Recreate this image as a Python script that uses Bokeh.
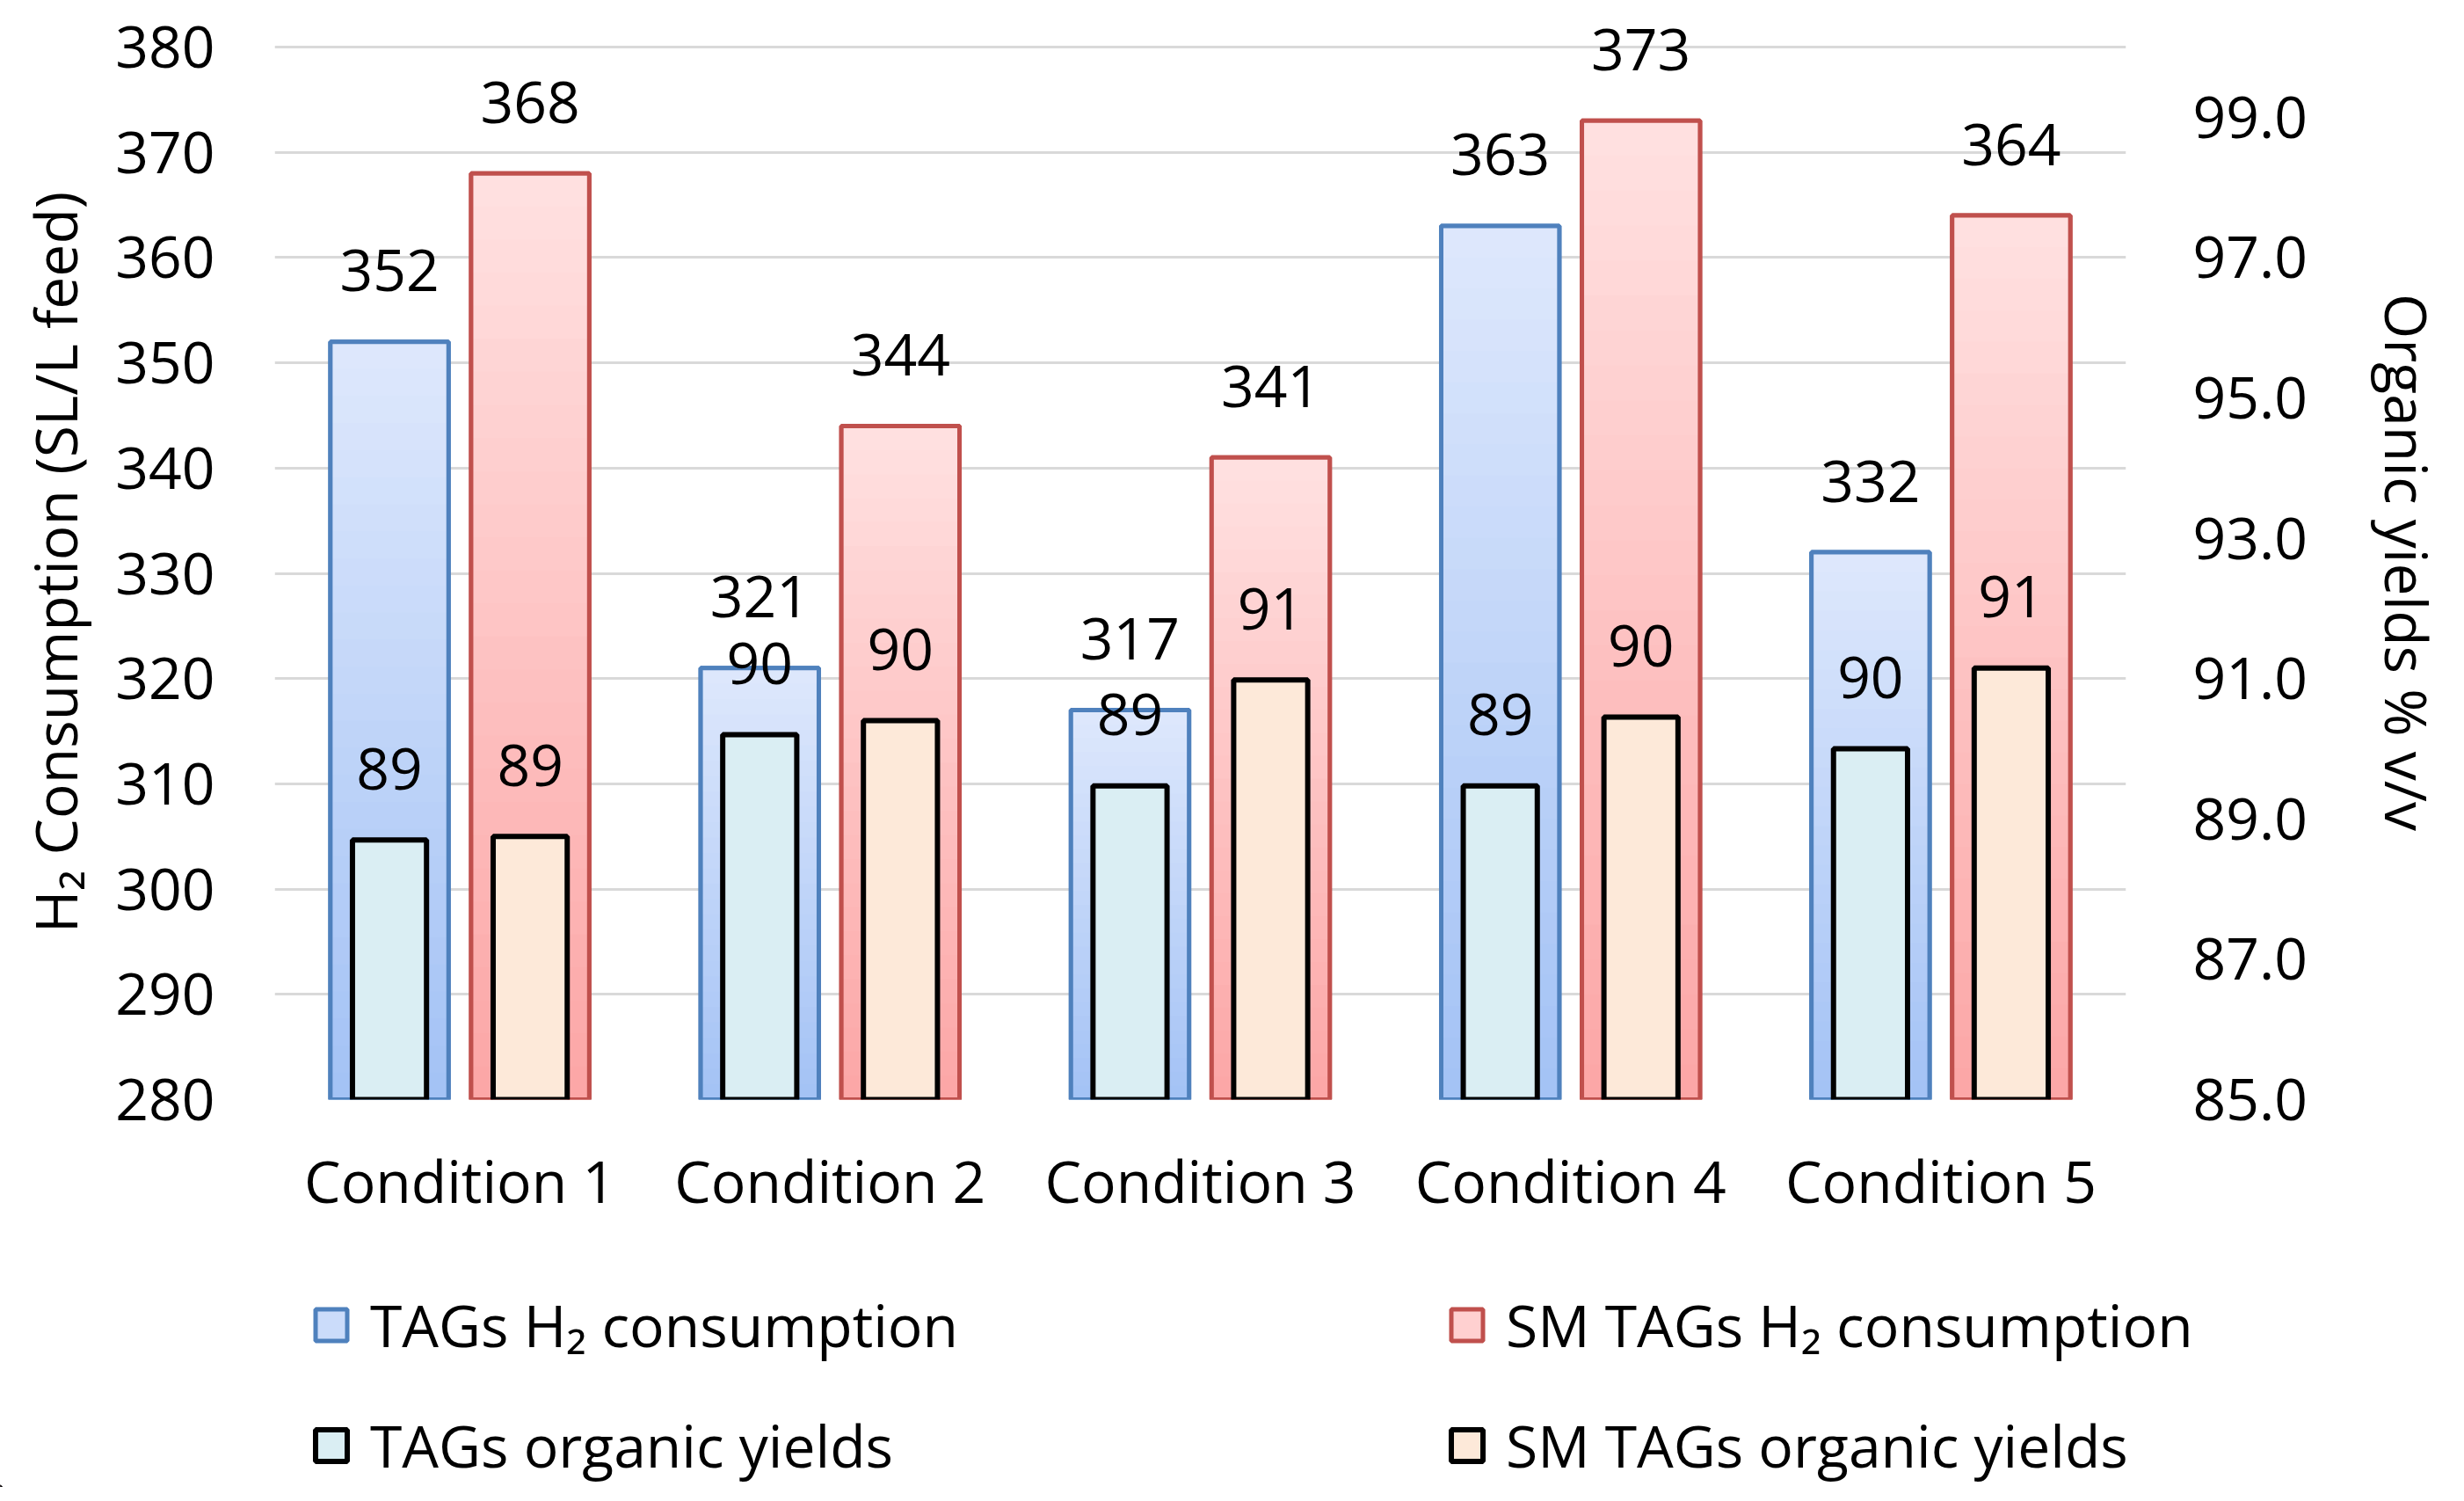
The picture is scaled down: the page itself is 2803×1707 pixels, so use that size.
from bokeh.plotting import figure
from bokeh.models import (FactorRange, Range1d, LinearAxis, FixedTicker, NumeralTickFormatter,
                          ColumnDataSource, Legend, LegendItem)
from bokeh.transform import dodge
from bokeh.core.properties import value
from bokeh.embed import file_html
from bokeh.resources import INLINE

# ---------------- data ----------------
categories = ["Condition 1", "Condition 2", "Condition 3", "Condition 4", "Condition 5"]
tags_h2 = [352, 321, 317, 363, 332]
sm_tags_h2 = [368, 344, 341, 373, 364]
tags_yield = [88.70, 90.20, 89.47, 89.47, 90.00]
sm_tags_yield = [88.75, 90.40, 90.98, 90.45, 91.15]
h2_ticks = [280, 290, 300, 310, 320, 330, 340, 350, 360, 370, 380]
yield_ticks = [85, 87, 89, 91, 93, 95, 97, 99]

# ---------------- styling ----------------
FONT = "Open Sans"
FS = "66px"
W = 2787
H_MAIN, H_LEG = 1400, 291
FRAME_L, FRAME_R, FRAME_B = 312, 2428, 1250
GRID_TOP = 53          # pixel row of the 380 gridline
FRAME_T = 28           # frame a bit taller so the top data label is not clipped
H2_MIN, H2_MAX = 280, 380
Y_MIN, Y_MAX = 85, 100
px_per_unit = (FRAME_B - GRID_TOP) / (H2_MAX - H2_MIN)
H2_VIEW_MAX = H2_MAX + (GRID_TOP - FRAME_T) / px_per_unit
Y_VIEW_MAX = Y_MIN + (H2_VIEW_MAX - H2_MIN) * (Y_MAX - Y_MIN) / (H2_MAX - H2_MIN)
OFF = 0.19
WIDE = 0.319
NARROW = 0.2
BLUE_LINE, RED_LINE = "#4f81bd", "#c0504d"
BLUE_TOP, BLUE_BOT = (222, 232, 252), (163, 194, 245)
RED_TOP, RED_BOT = (255, 225, 225), (252, 166, 166)
TAGS_Y_FILL, SM_Y_FILL = "#daeef3", "#fde9d9"

p = figure(x_range=FactorRange(*categories, range_padding=0),
           y_range=Range1d(H2_MIN, H2_VIEW_MAX),
           width=W, height=H_MAIN, output_backend="svg", toolbar_location=None,
           min_border_left=FRAME_L, min_border_right=W - FRAME_R,
           min_border_top=FRAME_T, min_border_bottom=H_MAIN - FRAME_B)
p.extra_y_ranges = {"yield": Range1d(Y_MIN, Y_VIEW_MAX)}
p.outline_line_color = None
p.xgrid.visible = False
p.ygrid.grid_line_color = "#d9d9d9"
p.ygrid.grid_line_width = 3
p.ygrid.ticker = FixedTicker(ticks=h2_ticks)

# left axis
ya = p.yaxis[0]
ya.ticker = FixedTicker(ticks=h2_ticks)
ya.axis_label = "H\u2082 Consumption (SL/L feed)"
ya.major_label_standoff = 62
ya.axis_label_standoff = 21

# right axis
ra = LinearAxis(y_range_name="yield", ticker=FixedTicker(ticks=yield_ticks),
                formatter=NumeralTickFormatter(format="0.0"),
                axis_label="Organic yields % v/v")
ra.major_label_standoff = 70
ra.axis_label_standoff = 66
p.add_layout(ra, "right")

for ax in [ya, ra]:
    ax.axis_label_text_font = FONT
    ax.axis_label_text_font_size = FS
    ax.axis_label_text_font_style = "normal"
    ax.axis_label_text_color = "black"

# x axis
xa = p.xaxis[0]
xa.major_label_standoff = 40

for ax in [ya, ra, xa]:
    ax.axis_line_color = None
    ax.major_tick_line_color = None
    ax.minor_tick_line_color = None
    ax.major_label_text_font = FONT
    ax.major_label_text_font_size = FS
    ax.major_label_text_color = "black"


# ---------------- gradient helper ----------------
def hex_of(rgb):
    return "#%02x%02x%02x" % tuple(int(round(c)) for c in rgb)


def gradient_bands(vals, base, top_rgb, bot_rgb, n=28):
    cats, lo, hi, cols = [], [], [], []
    for c, v in zip(categories, vals):
        span = v - base
        for k in range(n):
            f0, f1 = k / n, (k + 1) / n
            t = (k + 0.5) / n
            rgb = [b + (tp - b) * t for tp, b in zip(top_rgb, bot_rgb)]
            cats.append(c)
            lo.append(base + span * f0)
            hi.append(min(v, base + span * f1 + span * 0.004))
            cols.append(hex_of(rgb))
    return ColumnDataSource(dict(cat=cats, lo=lo, hi=hi, col=cols))


src = ColumnDataSource(dict(cat=categories, tags_h2=tags_h2, sm_tags_h2=sm_tags_h2,
                            tags_yield=tags_yield, sm_tags_yield=sm_tags_yield,
                            tags_h2_lbl=["%d" % int(v + 0.5) for v in tags_h2],
                            sm_tags_h2_lbl=["%d" % int(v + 0.5) for v in sm_tags_h2],
                            tags_yield_lbl=["%d" % int(v + 0.5) for v in tags_yield],
                            sm_tags_yield_lbl=["%d" % int(v + 0.5) for v in sm_tags_yield]))

xb = dodge("cat", -OFF, range=p.x_range)
xr = dodge("cat", OFF, range=p.x_range)

# wide H2 bars: base bar, vertical gradient on top, then the outline
p.vbar(x=xb, top="tags_h2", bottom=H2_MIN, width=WIDE, source=src,
       fill_color="#cbdcfa", line_color=BLUE_LINE, line_width=5)
p.vbar(x=dodge("cat", -OFF, range=p.x_range), top="hi", bottom="lo", width=WIDE,
       source=gradient_bands(tags_h2, H2_MIN, BLUE_TOP, BLUE_BOT),
       fill_color="col", line_color=None)
p.vbar(x=xb, top="tags_h2", bottom=H2_MIN, width=WIDE, source=src,
       fill_color=None, line_color=BLUE_LINE, line_width=5)

p.vbar(x=xr, top="sm_tags_h2", bottom=H2_MIN, width=WIDE, source=src,
       fill_color="#ffcccc", line_color=RED_LINE, line_width=5)
p.vbar(x=dodge("cat", OFF, range=p.x_range), top="hi", bottom="lo", width=WIDE,
       source=gradient_bands(sm_tags_h2, H2_MIN, RED_TOP, RED_BOT),
       fill_color="col", line_color=None)
p.vbar(x=xr, top="sm_tags_h2", bottom=H2_MIN, width=WIDE, source=src,
       fill_color=None, line_color=RED_LINE, line_width=5)

# narrow yield bars (right axis)
p.vbar(x=xb, top="tags_yield", bottom=Y_MIN, width=NARROW, source=src,
       y_range_name="yield", fill_color=TAGS_Y_FILL, line_color="black", line_width=6)
p.vbar(x=xr, top="sm_tags_yield", bottom=Y_MIN, width=NARROW, source=src,
       y_range_name="yield", fill_color=SM_Y_FILL, line_color="black", line_width=6)

# data labels
lab_kw = dict(text_font=value(FONT), text_font_size=FS, text_align="center",
              text_baseline="alphabetic", text_color="black", y_offset=-81, source=src)
p.text(x=xb, y="tags_h2", text="tags_h2_lbl", **lab_kw)
p.text(x=xr, y="sm_tags_h2", text="sm_tags_h2_lbl", **lab_kw)
p.text(x=xb, y="tags_yield", text="tags_yield_lbl", y_range_name="yield", **lab_kw)
p.text(x=xr, y="sm_tags_yield", text="sm_tags_yield_lbl", y_range_name="yield", **lab_kw)

# ---------------- legend strip below the chart ----------------
leg = figure(width=W, height=H_LEG, x_range=Range1d(0, 1), y_range=Range1d(0, 1),
             x_axis_type=None, y_axis_type=None, output_backend="svg",
             toolbar_location=None, min_border=0, outline_line_color=None)
leg.xgrid.visible = False
leg.ygrid.visible = False
# legend keys (proxies kept outside the visible range of this strip)
key = dict(x=[-5.0], top=[-5.0], bottom=[-6.0], width=0.1)
k_blue = leg.vbar(**key, fill_color="#cbdcfa", line_color=BLUE_LINE, line_width=5)
k_red = leg.vbar(**key, fill_color="#ffd0d0", line_color=RED_LINE, line_width=5)
k_ty = leg.vbar(**key, fill_color=TAGS_Y_FILL, line_color="black", line_width=6)
k_sy = leg.vbar(**key, fill_color=SM_Y_FILL, line_color="black", line_width=6)

leg_kw = dict(orientation="vertical", glyph_width=45, glyph_height=45,
              label_standoff=22, label_height=88, spacing=47, padding=0, margin=0,
              border_line_color=None, background_fill_alpha=0,
              label_text_font=FONT, label_text_font_size=FS, label_text_color="black")
leg_left = Legend(items=[LegendItem(label="TAGs H\u2082 consumption", renderers=[k_blue]),
                         LegendItem(label="TAGs organic yields", renderers=[k_ty])],
                  location=(354, 3), **leg_kw)
leg_right = Legend(items=[LegendItem(label="SM TAGs H\u2082 consumption", renderers=[k_red]),
                          LegendItem(label="SM TAGs organic yields", renderers=[k_sy])],
                   location=(1646, 3), **leg_kw)
leg.add_layout(leg_left)
leg.add_layout(leg_right)

open("out.html", "w").write(file_html([p, leg], INLINE))
